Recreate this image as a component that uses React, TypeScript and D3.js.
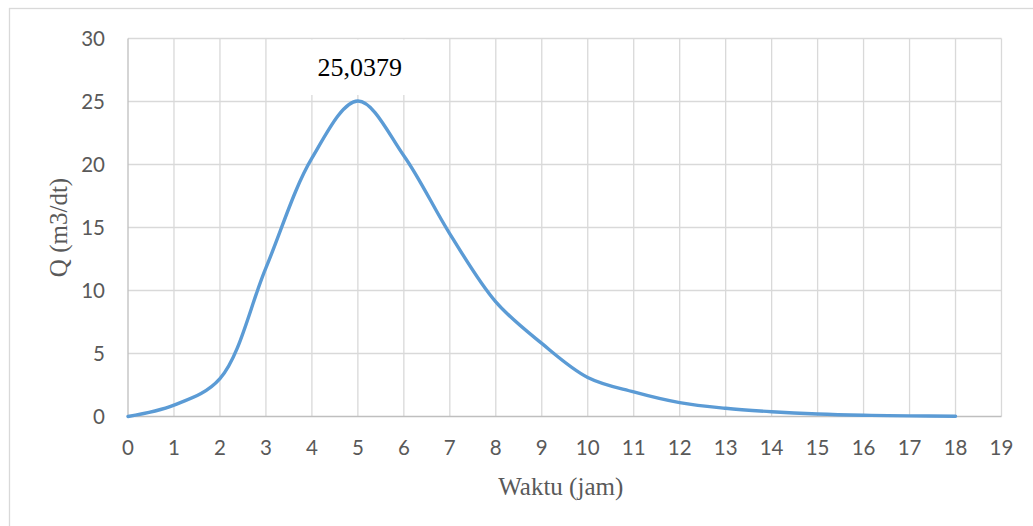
import React, { useEffect, useRef } from 'react';
import * as d3 from 'd3';

// hidrograf banjir - debit per jam
const hours = [0, 1, 2, 3, 4, 5, 6, 7, 8, 9, 10, 11, 12, 13, 14, 15, 16, 17, 18];
const discharge = [0, 0.9, 3.0, 11.8, 20.5, 25.0379, 20.7, 14.5, 9.1, 5.8, 3.1, 1.95, 1.1, 0.65, 0.38, 0.2, 0.1, 0.05, 0.02];
const xTicks = d3.range(0, 20);
const yTicks = [0, 5, 10, 15, 20, 25, 30];
const peakLabel = '25,0379';
const xTitle = 'Waktu (jam)';
const yTitle = 'Q (m3/dt)';

const WIDTH = 1033;
const HEIGHT = 526;

const App: React.FC = () => {
  const svgRef = useRef<SVGSVGElement>(null);

  useEffect(() => {
    const svg = d3.select(svgRef.current);
    svg.selectAll('*').remove();

    const margin = { top: 38.5, right: 31.5, bottom: 109.5, left: 128 };
    const x = d3.scaleLinear().domain([0, 19]).range([margin.left, WIDTH - margin.right]);
    const y = d3.scaleLinear().domain([0, 30]).range([HEIGHT - margin.bottom, margin.top]);

    // outer frame
    svg.append('rect')
      .attr('x', 9.5).attr('y', 8.5)
      .attr('width', WIDTH).attr('height', HEIGHT)
      .attr('fill', 'white')
      .attr('stroke', '#d9d9d9')
      .attr('stroke-width', 1.3);

    // gridlines
    svg.append('g').selectAll('line.h')
      .data(yTicks.filter(d => d > 0))
      .enter().append('line')
      .attr('x1', x(0)).attr('x2', x(19))
      .attr('y1', d => y(d)).attr('y2', d => y(d))
      .attr('stroke', '#d9d9d9').attr('stroke-width', 1.3);

    svg.append('g').selectAll('line.v')
      .data(xTicks.filter(d => d > 0))
      .enter().append('line')
      .attr('x1', d => x(d)).attr('x2', d => x(d))
      .attr('y1', y(0)).attr('y2', y(30))
      .attr('stroke', '#d9d9d9').attr('stroke-width', 1.3);

    // axes lines
    svg.append('line')
      .attr('x1', x(0)).attr('x2', x(0))
      .attr('y1', y(0)).attr('y2', y(30))
      .attr('stroke', '#bfbfbf').attr('stroke-width', 1.3);
    svg.append('line')
      .attr('x1', x(0)).attr('x2', x(19))
      .attr('y1', y(0)).attr('y2', y(0))
      .attr('stroke', '#bfbfbf').attr('stroke-width', 1.3);

    // tick labels
    svg.append('g').selectAll('text')
      .data(xTicks)
      .enter().append('text')
      .attr('x', d => x(d))
      .attr('y', y(0) + 38)
      .attr('text-anchor', 'middle')
      .attr('font-family', 'Lato, "Open Sans", sans-serif')
      .attr('font-size', 20.5)
      .attr('fill', '#595959')
      .text(d => String(d));

    svg.append('g').selectAll('text')
      .data(yTicks)
      .enter().append('text')
      .attr('x', x(0) - 23)
      .attr('y', d => y(d))
      .attr('dy', '0.36em')
      .attr('text-anchor', 'end')
      .attr('font-family', 'Lato, "Open Sans", sans-serif')
      .attr('font-size', 20.5)
      .attr('fill', '#595959')
      .text(d => String(d));

    // axis titles
    svg.append('text')
      .attr('x', (x(0) + x(19)) / 2 - 4)
      .attr('y', y(0) + 78)
      .attr('text-anchor', 'middle')
      .attr('font-family', '"Liberation Serif", "Times New Roman", serif')
      .attr('font-size', 25)
      .attr('fill', '#595959')
      .text(xTitle);

    svg.append('text')
      .attr('transform', `translate(67,${(y(0) + y(30)) / 2}) rotate(-90)`)
      .attr('text-anchor', 'middle')
      .attr('font-family', '"Liberation Serif", "Times New Roman", serif')
      .attr('font-size', 25)
      .attr('fill', '#595959')
      .text(yTitle);

    // series
    const pts = hours.map((h, i) => [h, discharge[i]] as [number, number]);
    const line = d3.line<[number, number]>()
      .x(d => x(d[0]))
      .y(d => y(d[1]))
      .curve(d3.curveCatmullRom.alpha(0.5));

    svg.append('path')
      .datum(pts)
      .attr('fill', 'none')
      .attr('stroke', '#5b9bd5')
      .attr('stroke-width', 3.4)
      .attr('stroke-linecap', 'round')
      .attr('d', line);

    // peak data label (box hides gridlines behind it)
    const peakIdx = d3.maxIndex(discharge);
    const px = x(hours[peakIdx]);
    svg.append('rect')
      .attr('x', px - 68)
      .attr('y', y(30) + 1)
      .attr('width', 136)
      .attr('height', y(discharge[peakIdx]) - y(30) - 7)
      .attr('fill', 'white');
    svg.append('text')
      .attr('x', px + 2)
      .attr('y', y(30) + 37)
      .attr('text-anchor', 'middle')
      .attr('font-family', '"Liberation Serif", "Times New Roman", serif')
      .attr('font-size', 26)
      .attr('fill', '#000000')
      .text(peakLabel);
  }, []);

  return (
    <div style={{ position: 'absolute', left: 0, top: 0, width: WIDTH, height: HEIGHT, overflow: 'hidden', background: 'white' }}>
      <svg ref={svgRef} width={WIDTH} height={HEIGHT}></svg>
    </div>
  );
};

export default App;
